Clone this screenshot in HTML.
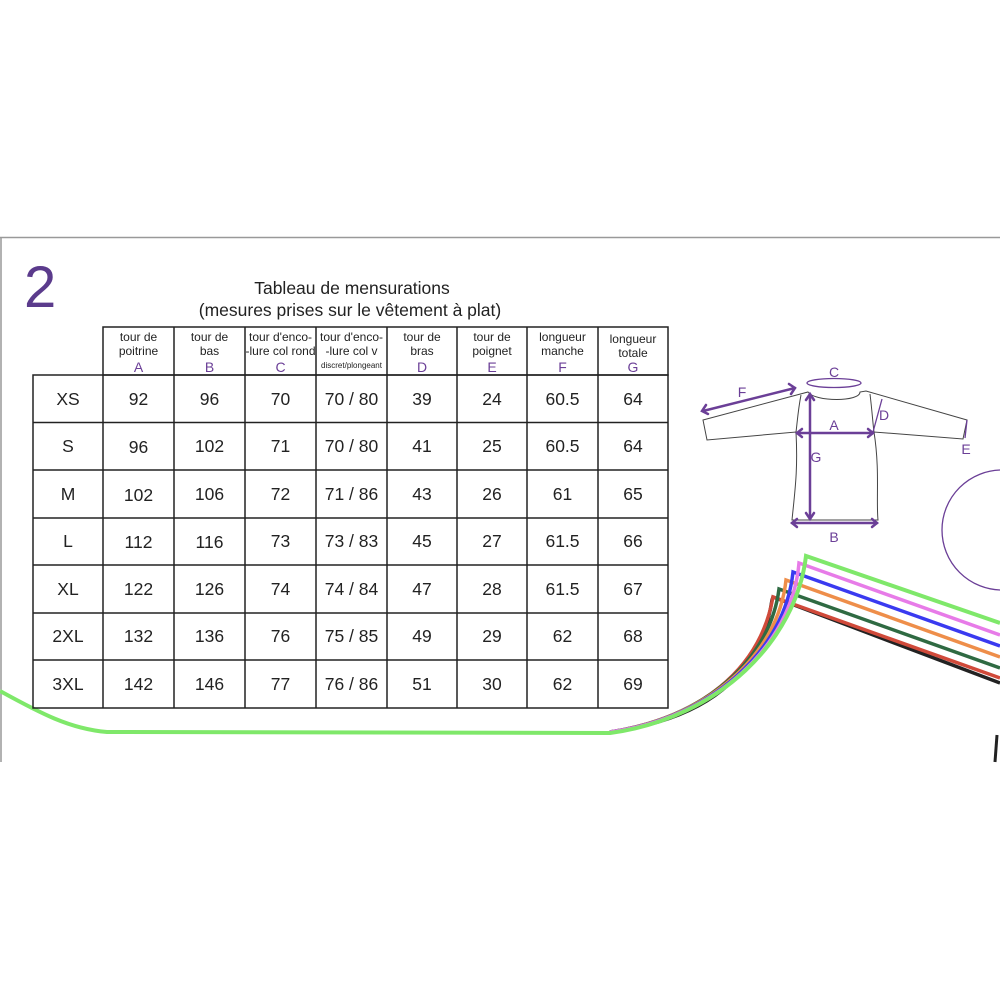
<!DOCTYPE html>
<html><head><meta charset="utf-8"><style>
html,body{margin:0;padding:0;background:#fff;}
svg{display:block;font-family:"Liberation Sans",sans-serif;}
</style></head><body>
<svg width="1000" height="1000" viewBox="0 0 1000 1000" xmlns="http://www.w3.org/2000/svg">
<rect width="1000" height="1000" fill="#fff"/>
<line x1="0" y1="237.5" x2="1000" y2="237.5" stroke="#999" stroke-width="1.5"/>
<line x1="1" y1="237" x2="1" y2="762" stroke="#999" stroke-width="1.5"/>

<text x="24" y="307" font-size="58" fill="#5b3b8c">2</text>
<text x="352" y="294" font-size="17.5" fill="#222" text-anchor="middle">Tableau de mensurations</text>
<text x="350" y="316" font-size="17.5" fill="#222" text-anchor="middle">(mesures prises sur le vêtement à plat)</text>

<!-- curves -->
<g fill="none" stroke-width="3.5">
<path d="M610,732 C700,720 760,680 772,600 L773,597 L1000,683" stroke="#222"/>
<path d="M610,732 C700,718 760,670 773,597 L1000,678" stroke="#d04a3a"/>
<path d="M610,732 C705,718 770,660 779,589 L1000,668" stroke="#2f6a42"/>
<path d="M610,732 C708,718 778,655 786,580 L1000,657" stroke="#ee8e4a"/>
<path d="M610,732 C712,718 785,650 793,572 L1000,646" stroke="#3a3af0"/>
<path d="M610,732 C716,718 792,645 799,563 L1000,635" stroke="#e77be8"/>
<path d="M0,691 C40,713 70,729 107,732 L610,733 C720,718 796,640 806,556 L1000,623" stroke="#7fe86a" stroke-width="4"/>
<path d="M997,735 L995,762" stroke="#222" stroke-width="3"/>
</g>

<!-- table -->
<g stroke="#222" stroke-width="1.5" fill="none">
<rect x="103" y="327" width="565" height="48"/>
<rect x="33" y="375" width="635" height="333"/>
<line x1="103" y1="375" x2="103" y2="708"/>
<line x1="174" y1="327" x2="174" y2="708"/>
<line x1="245" y1="327" x2="245" y2="708"/>
<line x1="316" y1="327" x2="316" y2="708"/>
<line x1="387" y1="327" x2="387" y2="708"/>
<line x1="457" y1="327" x2="457" y2="708"/>
<line x1="527" y1="327" x2="527" y2="708"/>
<line x1="598" y1="327" x2="598" y2="708"/>
<line x1="33" y1="422.5" x2="668" y2="422.5"/>
<line x1="33" y1="470" x2="668" y2="470"/>
<line x1="33" y1="518" x2="668" y2="518"/>
<line x1="33" y1="565" x2="668" y2="565"/>
<line x1="33" y1="613" x2="668" y2="613"/>
<line x1="33" y1="660" x2="668" y2="660"/>
</g>
<g font-size="12" fill="#222" text-anchor="middle">
<text x="138.5" y="341">tour de</text><text x="138.5" y="355">poitrine</text>
<text x="209.5" y="341">tour de</text><text x="209.5" y="355">bas</text>
<text x="280.5" y="341">tour d'enco-</text><text x="280.5" y="355">-lure col rond</text>
<text x="351.5" y="341">tour d'enco-</text><text x="351.5" y="355">-lure col v</text>
<text x="351.5" y="368" font-size="8">discret/plongeant</text>
<text x="422" y="341">tour de</text><text x="422" y="355">bras</text>
<text x="492" y="341">tour de</text><text x="492" y="355">poignet</text>
<text x="562.5" y="341">longueur</text><text x="562.5" y="355">manche</text>
<text x="633" y="343">longueur</text><text x="633" y="357">totale</text>
</g>
<g font-size="14" fill="#6b3f97" text-anchor="middle">
<text x="138.5" y="372">A</text><text x="209.5" y="372">B</text><text x="280.5" y="372">C</text>
<text x="422" y="372">D</text><text x="492" y="372">E</text><text x="562.5" y="372">F</text><text x="633" y="372">G</text>
</g>
<g font-size="17.5" fill="#222" text-anchor="middle">
<text x="68" y="405">XS</text><text x="138.5" y="405">92</text><text x="209.5" y="405">96</text><text x="280.5" y="405">70</text><text x="351.5" y="405">70 / 80</text><text x="422" y="405">39</text><text x="492" y="405">24</text><text x="562.5" y="405">60.5</text><text x="633" y="405">64</text>
<text x="68" y="452">S</text><text x="138.5" y="453">96</text><text x="209.5" y="452">102</text><text x="280.5" y="452">71</text><text x="351.5" y="452">70 / 80</text><text x="422" y="452">41</text><text x="492" y="452">25</text><text x="562.5" y="452">60.5</text><text x="633" y="452">64</text>
<text x="68" y="500">M</text><text x="138.5" y="501">102</text><text x="209.5" y="500">106</text><text x="280.5" y="500">72</text><text x="351.5" y="500">71 / 86</text><text x="422" y="500">43</text><text x="492" y="500">26</text><text x="562.5" y="500">61</text><text x="633" y="500">65</text>
<text x="68" y="547">L</text><text x="138.5" y="548">112</text><text x="209.5" y="548">116</text><text x="280.5" y="547">73</text><text x="351.5" y="547">73 / 83</text><text x="422" y="547">45</text><text x="492" y="547">27</text><text x="562.5" y="547">61.5</text><text x="633" y="547">66</text>
<text x="68" y="595">XL</text><text x="138.5" y="595">122</text><text x="209.5" y="595">126</text><text x="280.5" y="595">74</text><text x="351.5" y="595">74 / 84</text><text x="422" y="595">47</text><text x="492" y="595">28</text><text x="562.5" y="595">61.5</text><text x="633" y="595">67</text>
<text x="68" y="642">2XL</text><text x="138.5" y="642">132</text><text x="209.5" y="642">136</text><text x="280.5" y="642">76</text><text x="351.5" y="642">75 / 85</text><text x="422" y="642">49</text><text x="492" y="642">29</text><text x="562.5" y="642">62</text><text x="633" y="642">68</text>
<text x="68" y="690">3XL</text><text x="138.5" y="690">142</text><text x="209.5" y="690">146</text><text x="280.5" y="690">77</text><text x="351.5" y="690">76 / 86</text><text x="422" y="690">51</text><text x="492" y="690">30</text><text x="562.5" y="690">62</text><text x="633" y="690">69</text>
</g>

<!-- shirt -->
<g fill="none" stroke="#444" stroke-width="1">
<path d="M808,392 C815,402 860,402 860,392 L866,391 L967,420 L963,439 L874,432 C880,470 876,500 878,520 L792,520 C795,490 798,470 796,432 L707,440 L703,420 L808,392 Z"/>
<path d="M801,395 C798,410 797,425 796,432"/>
<path d="M870,394 C872,410 873,425 874,432"/>
</g>
<g stroke="#6b3f97" stroke-width="2.5" fill="none" stroke-linecap="round">
<line x1="703" y1="411" x2="795" y2="388"/>
<path d="M706,405 L702,411 L708,414 M789,384 L795,388 L791,394"/>
<line x1="797" y1="433" x2="873" y2="433"/>
<path d="M802,429 L797,433 L802,437 M868,429 L873,433 L868,437"/>
<line x1="810" y1="395" x2="810" y2="518"/>
<path d="M806,400 L810,394 L814,400 M806,513 L810,519 L814,513"/>
<line x1="792" y1="523" x2="877" y2="523"/>
<path d="M797,519 L792,523 L797,527 M872,519 L877,523 L872,527"/>
</g>
<g stroke="#6b3f97" stroke-width="1.3" fill="none">
<ellipse cx="834" cy="383" rx="27" ry="4.5"/>
<line x1="873" y1="432" x2="882" y2="399"/>
<line x1="967" y1="420" x2="965" y2="438"/>
<circle cx="1002" cy="530" r="60"/>
</g>
<g font-size="14" fill="#6b3f97" text-anchor="middle">
<text x="742" y="397">F</text><text x="834" y="377">C</text><text x="884" y="420">D</text>
<text x="834" y="430">A</text><text x="816" y="462">G</text><text x="834" y="542">B</text><text x="966" y="454">E</text>
</g>
</svg>
</body></html>
